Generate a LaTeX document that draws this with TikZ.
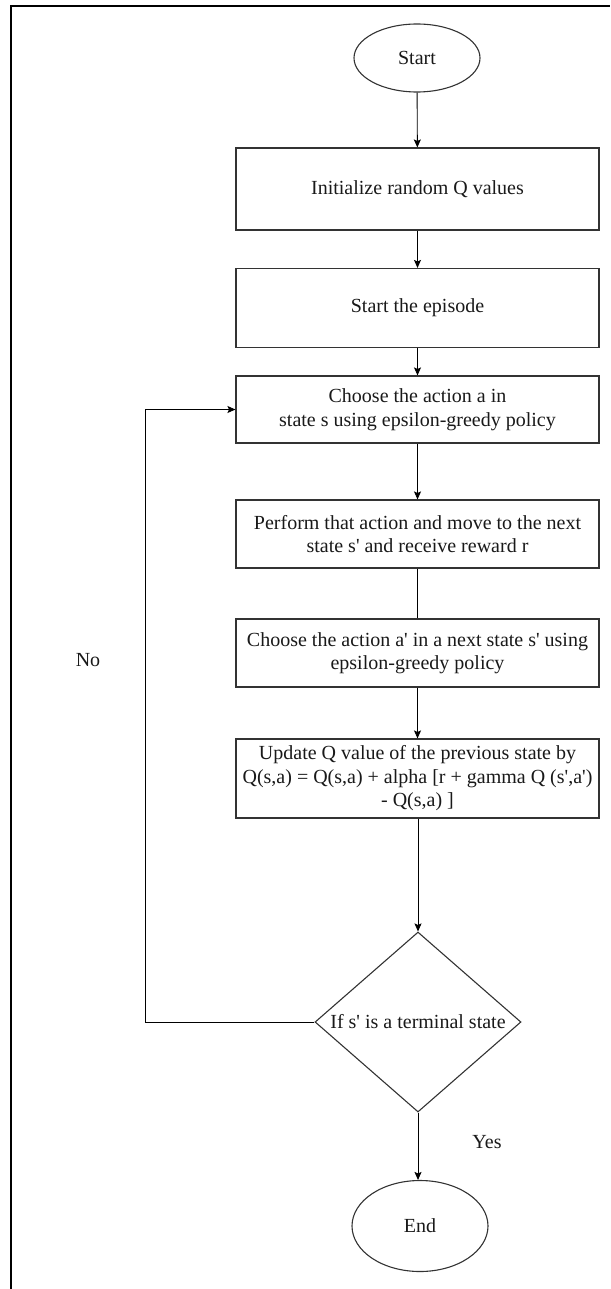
\documentclass[tikz,border=0pt]{standalone}
\usepackage{fontspec}
\setmainfont{Liberation Serif}[Ligatures=TeXOff]
\usetikzlibrary{shapes.geometric,arrows.meta}

\begin{document}
\begin{tikzpicture}[x=1pt,y=-1pt,
  every node/.style={font=\fontsize{20}{23.5}\selectfont, text=black!90},
  stepbox/.style={draw=black!80, line width=1.1pt, rectangle, inner sep=0pt,
    minimum width=363pt, align=center},
  terminal/.style={draw=black!80, line width=1.1pt, ellipse, inner sep=0pt},
  decision/.style={draw=black!80, line width=1.1pt, diamond, inner sep=0pt,
    aspect=1.14, minimum width=206pt, minimum height=180pt},
  flow/.style={draw=black, line width=0.9pt},
  arrow/.style={flow, -{Stealth[length=8pt,width=7pt,inset=1.5pt]}},
  label/.style={inner sep=0pt}]

  % page extent and the outer frame (left and top edges)
  \useasboundingbox (0,0) rectangle (610,1289);
  \draw[line width=2.5pt, black] (11,1289) -- (11,6) -- (610,6);

  % flowchart nodes
  \node[terminal, minimum width=126pt, minimum height=68pt] (start) at (417,58) {Start};
  \node[stepbox, minimum height=82pt] (init) at (417.5,189) {Initialize random Q values};
  \node[stepbox, minimum height=79pt] (episode) at (417.5,308) {Start the episode};
  \node[stepbox, minimum height=67pt] (choose) at (417.5,409.5)
    {Choose the action a in\\state s using epsilon-greedy policy};
  \node[stepbox, minimum height=68pt] (perform) at (417.5,534)
    {Perform that action and move to the next\\state s' and receive reward r};
  \node[stepbox, minimum height=68pt] (choosenext) at (417.5,653)
    {Choose the action a' in a next state s' using\\epsilon-greedy policy};
  \node[stepbox, minimum height=79pt] (update) at (417.5,778.5)
    {Update Q value of the previous state by\\Q(s,a) = Q(s,a) + alpha [r + gamma Q (s',a')\\- Q(s,a) ]};
  \node[decision] (term) at (418,1022) {If s' is a terminal state};
  \node[terminal, minimum width=136pt, minimum height=91pt] (finish) at (420,1226) {End};

  % loop-back corner
  \coordinate (loopbot) at (145,1022);
  \coordinate (looptop) at (145,409.5);

  % connectors
  \draw[arrow] (start) -- (init);
  \draw[arrow] (init) -- (episode);
  \draw[arrow] (episode) -- (choose);
  \draw[arrow] (choose) -- (perform);
  \draw[flow] (perform) -- (choosenext);
  \draw[arrow] (choosenext) -- (update);
  \draw[arrow] (update.south -| term.north) -- (term.north);
  \draw[arrow] (term.south) -- (term.south |- finish.north);
  \draw[arrow] (term.west) -- (loopbot) -- (looptop) -- (choose.west);

  % branch labels
  \node[label] (nolabel) at (88,660) {No};
  \node[label] (yeslabel) at (487,1142) {Yes};
\end{tikzpicture}
\end{document}
